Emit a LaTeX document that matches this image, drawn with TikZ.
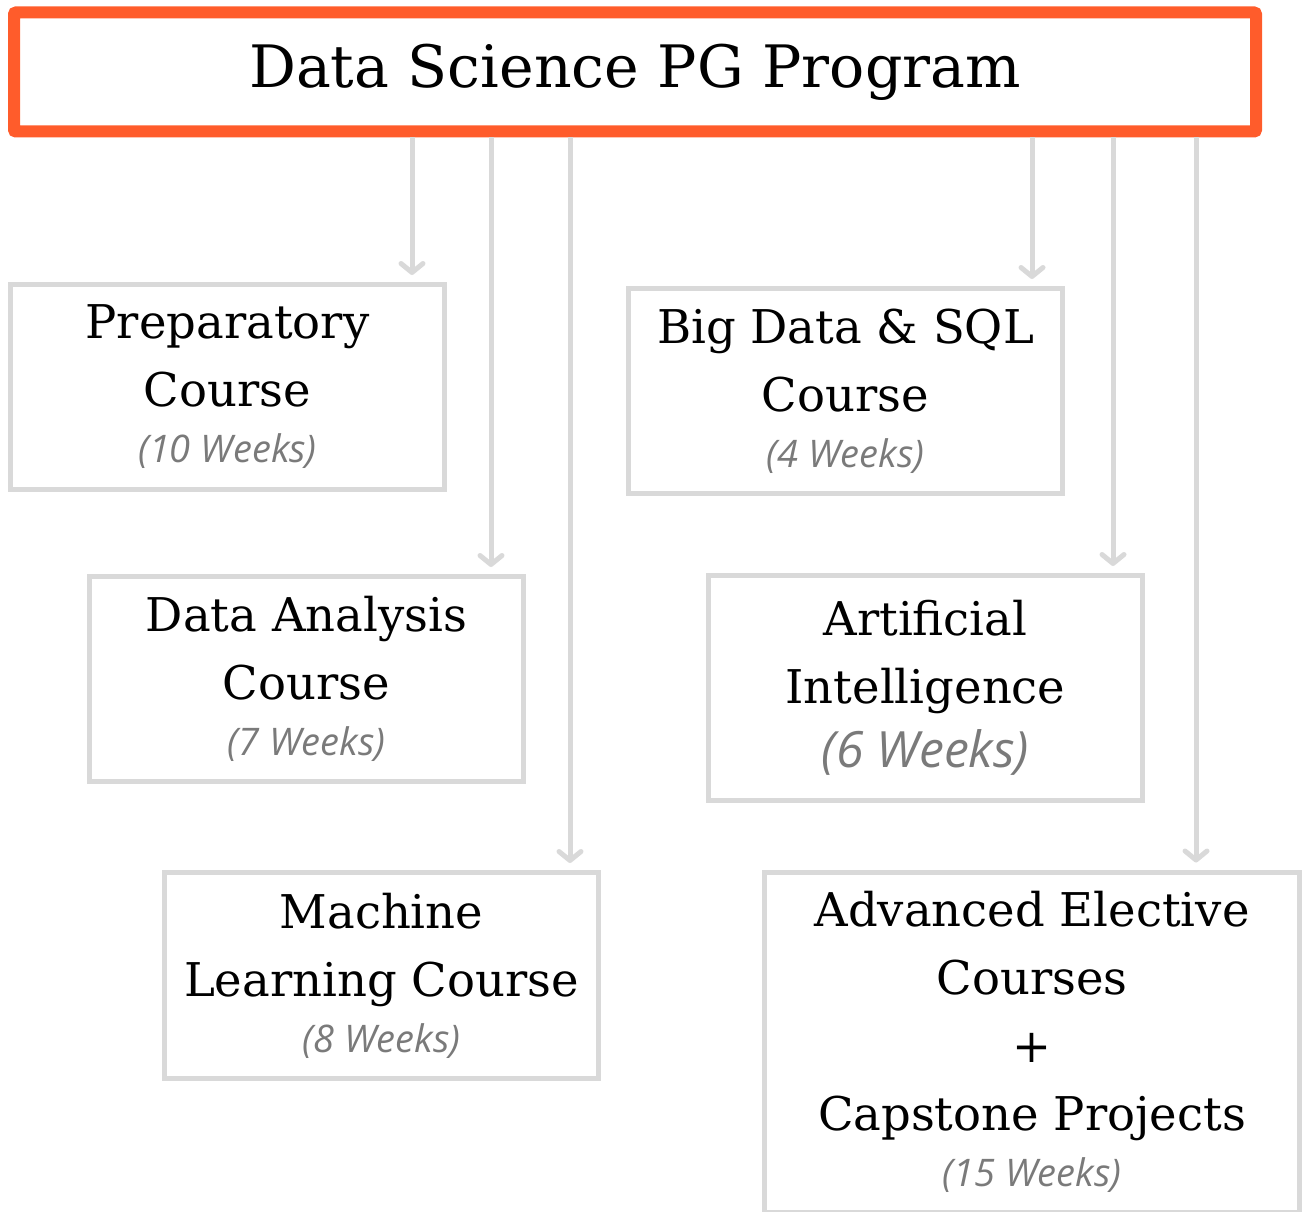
\documentclass[tikz,border=0pt]{standalone}
\usepackage{fontspec}
\setmainfont{DejaVu Serif}
\newfontfamily\wkfont{Open Sans}
\usetikzlibrary{arrows.meta}
\definecolor{orangec}{HTML}{FF5C2B}
\definecolor{grayc}{HTML}{D9D9D9}
\definecolor{wkc}{HTML}{7A7A7A}
\newcommand{\wk}[1]{{\wkfont\itshape\color{wkc}\fontsize{38}{42}\selectfont #1}}
\begin{document}
\begin{tikzpicture}[x=1pt,y=-1pt,
  box/.style={draw=grayc, line width=5pt, minimum width=434pt, minimum height=205pt,
    align=center, inner sep=0pt, font=\fontsize{46.5}{68}\selectfont},
  arr/.style={draw=grayc, line width=5pt, -{Straight Barb[length=9pt,width=22pt,round]}, shorten >=7pt}]
\useasboundingbox (0,0) rectangle (1306,1212);
\node[draw=orangec, line width=12pt, rounded corners=2pt, minimum width=1242pt, minimum height=119pt,
  inner sep=0pt, font=\fontsize{58.5}{70}\selectfont] (title) at (635,72) {\raisebox{-3pt}{Data Science PG Program}};
\node[box] (prep) at (227.5,387) {Preparatory\\Course\\[-12pt]\wk{(10 Weeks)}};
\node[box] (big) at (845.5,391) {Big Data \& SQL\\Course\\[-12pt]\wk{(4 Weeks)}};
\node[box] (da) at (306.5,679) {Data Analysis\\Course\\[-12pt]\wk{(7 Weeks)}};
\node[box, minimum height=225pt] (ai) at (925.5,688) {Artificial\\Intelligence\\[-4pt]{\wkfont\itshape\color{wkc}\fontsize{50}{54}\selectfont (6 Weeks)}};
\node[box, minimum height=206pt] (ml) at (381.5,975.5) {Machine\\Learning Course\\[-12pt]\wk{(8 Weeks)}};
\node[box, minimum width=535pt, minimum height=340pt] (adv) at (1032,1042) {Advanced Elective\\Courses\\+\\Capstone Projects\\[-12pt]\wk{(15 Weeks)}};
\draw[arr] (412,0 |- title.south) -- (412,0 |- prep.north);
\draw[arr] (491,0 |- title.south) -- (491,0 |- da.north);
\draw[arr] (570,0 |- title.south) -- (570,0 |- ml.north);
\draw[arr] (1032,0 |- title.south) -- (1032,0 |- big.north);
\draw[arr] (1113,0 |- title.south) -- (1113,0 |- ai.north);
\draw[arr] (1196,0 |- title.south) -- (1196,0 |- adv.north);
\end{tikzpicture}
\end{document}
